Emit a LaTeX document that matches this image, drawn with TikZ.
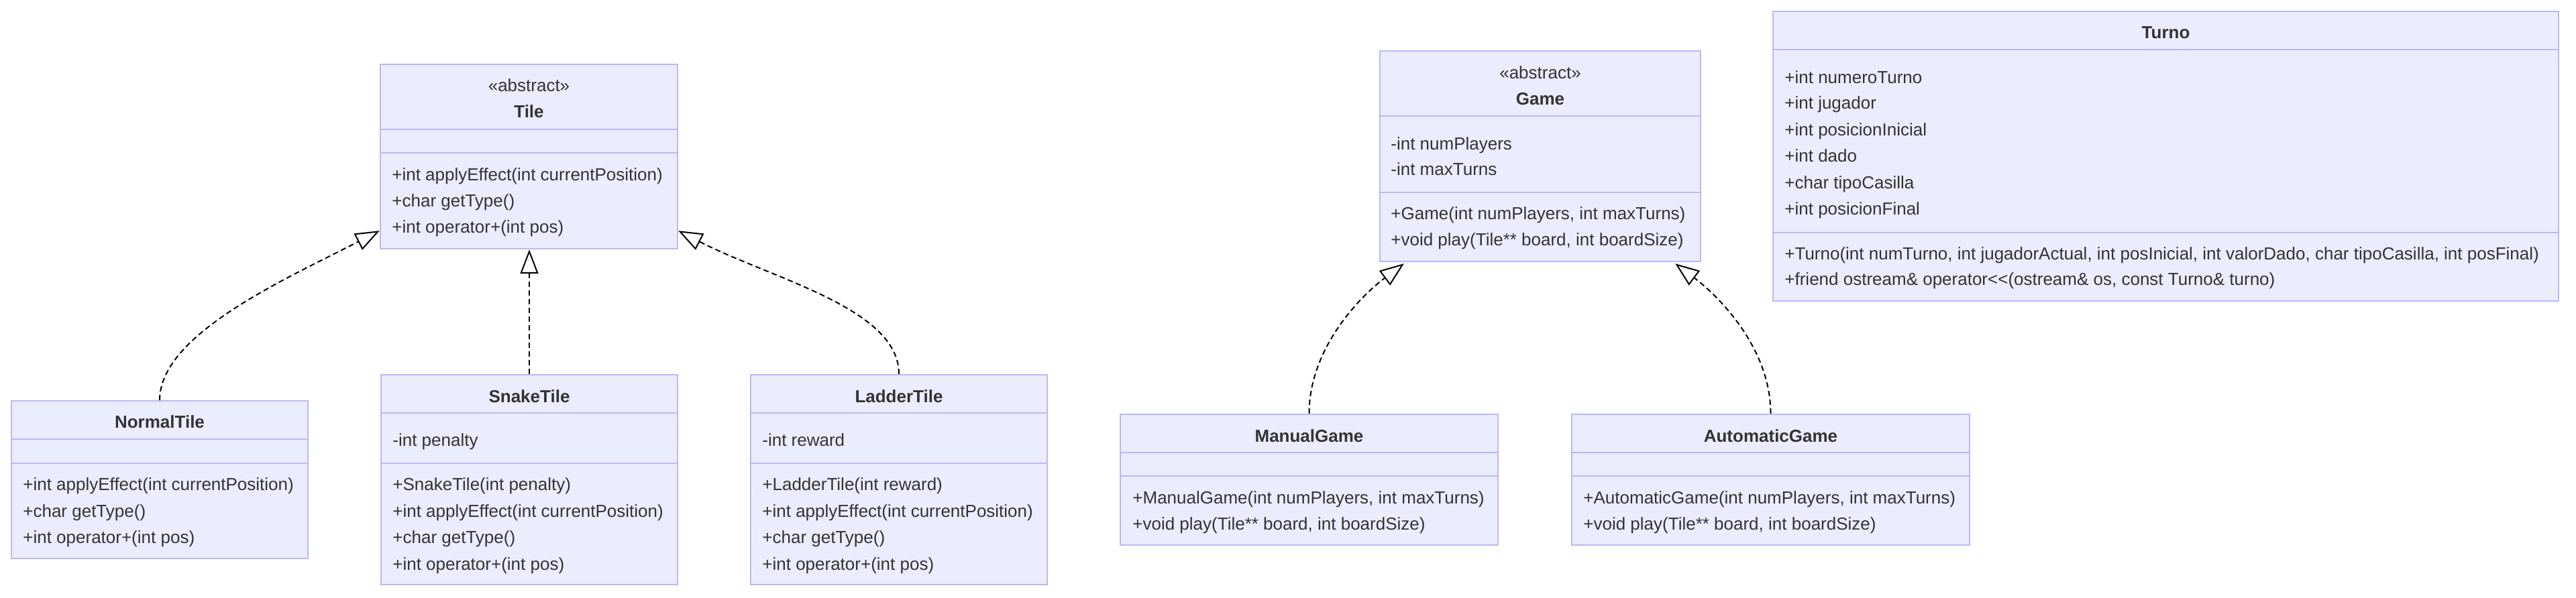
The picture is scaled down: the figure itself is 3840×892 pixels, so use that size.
\documentclass[tikz,border=0pt]{standalone}
\usepackage{fontspec}
\setmainfont{Liberation Sans}
\usepackage{tikz}
\usetikzlibrary{arrows.meta,calc,positioning,fit}
\definecolor{umlfill}{HTML}{ECECFF}
\definecolor{umlborder}{RGB}{185,185,245}
\definecolor{umltext}{HTML}{333333}
\tikzset{
classbox/.style={draw=umlborder,fill=umlfill,line width=1.2pt,inner sep=0pt},
sepline/.style={draw=umlborder,line width=1.2pt},
member/.style={anchor=west,inner sep=0pt,text=umltext,text height=11.5pt,text depth=2.7pt,font=\fontsize{13}{15}\selectfont},
classname/.style={inner sep=0pt,text=umltext,text height=11.5pt,text depth=2.7pt,font=\bfseries\fontsize{13}{15}\selectfont},
stereo/.style={classname,font=\fontsize{13}{15}\selectfont},
realizes/.style={draw=black,line width=1pt,dash pattern=on 4pt off 2.5pt,-{Triangle[open,length=18pt,width=13.5pt,line width=1pt]}}
}

\begin{document}
\begin{tikzpicture}[x=0.5pt,y=-0.5pt]
\useasboundingbox (0,0) rectangle (3840,892);
% class boxes
\node[classbox,fit={(567,96) (1010,371)}] (tile) {};
\node[classbox,fit={(17,598) (459,833)}] (normal) {};
\node[classbox,fit={(568,559) (1010,872)}] (snake) {};
\node[classbox,fit={(1119,559) (1561,872)}] (ladder) {};
\node[classbox,fit={(2057,76) (2535,390)}] (game) {};
\node[classbox,fit={(2643,17) (3814,449)}] (turno) {};
\node[classbox,fit={(1670,618) (2233,813)}] (manual) {};
\node[classbox,fit={(2343,618) (2936,813)}] (automatic) {};
% compartments
\draw[sepline] (tile.west |- 0,193) -- (tile.east |- 0,193);
\draw[sepline] (tile.west |- 0,228) -- (tile.east |- 0,228);
\draw[sepline] (normal.west |- 0,655) -- (normal.east |- 0,655);
\draw[sepline] (normal.west |- 0,691) -- (normal.east |- 0,691);
\draw[sepline] (snake.west |- 0,616) -- (snake.east |- 0,616);
\draw[sepline] (snake.west |- 0,691) -- (snake.east |- 0,691);
\draw[sepline] (ladder.west |- 0,616) -- (ladder.east |- 0,616);
\draw[sepline] (ladder.west |- 0,691) -- (ladder.east |- 0,691);
\draw[sepline] (game.west |- 0,173) -- (game.east |- 0,173);
\draw[sepline] (game.west |- 0,287) -- (game.east |- 0,287);
\draw[sepline] (turno.west |- 0,74) -- (turno.east |- 0,74);
\draw[sepline] (turno.west |- 0,347) -- (turno.east |- 0,347);
\draw[sepline] (manual.west |- 0,675) -- (manual.east |- 0,675);
\draw[sepline] (manual.west |- 0,710) -- (manual.east |- 0,710);
\draw[sepline] (automatic.west |- 0,675) -- (automatic.east |- 0,675);
\draw[sepline] (automatic.west |- 0,710) -- (automatic.east |- 0,710);
% Tile
\node[stereo] (tile-st) at (788.5,128) {«abstract»};
\node[classname] (tile-nm) at (788.5,167) {Tile};
\node[member] (tile-m1) at (584,261) {+int applyEffect(int currentPosition)};
\node[member] (tile-m2) at (584,300) {+char getType()};
\node[member] (tile-m3) at (584,339) {+int operator+(int pos)};
% NormalTile
\node[classname] (normal-nm) at (238,630) {NormalTile};
\node[member] (normal-m1) at (34,723) {+int applyEffect(int currentPosition)};
\node[member] (normal-m2) at (34,763) {+char getType()};
\node[member] (normal-m3) at (34,802) {+int operator+(int pos)};
% SnakeTile
\node[classname] (snake-nm) at (789,592) {SnakeTile};
\node[member] (snake-a1) at (585,657) {-int penalty};
\node[member] (snake-m1) at (585,723) {+SnakeTile(int penalty)};
\node[member] (snake-m2) at (585,763) {+int applyEffect(int currentPosition)};
\node[member] (snake-m3) at (585,802) {+char getType()};
\node[member] (snake-m4) at (585,842) {+int operator+(int pos)};
% LadderTile
\node[classname] (ladder-nm) at (1340,592) {LadderTile};
\node[member] (ladder-a1) at (1136,657) {-int reward};
\node[member] (ladder-m1) at (1136,723) {+LadderTile(int reward)};
\node[member] (ladder-m2) at (1136,763) {+int applyEffect(int currentPosition)};
\node[member] (ladder-m3) at (1136,802) {+char getType()};
\node[member] (ladder-m4) at (1136,842) {+int operator+(int pos)};
% Game
\node[stereo] (game-st) at (2296,109) {«abstract»};
\node[classname] (game-nm) at (2296,148) {Game};
\node[member] (game-a1) at (2073,215) {-int numPlayers};
\node[member] (game-a2) at (2073,253) {-int maxTurns};
\node[member] (game-m1) at (2073,319) {+Game(int numPlayers, int maxTurns)};
\node[member] (game-m2) at (2073,358) {+void play(Tile** board, int boardSize)};
% Turno
\node[classname] (turno-nm) at (3228.5,49) {Turno};
\node[member] (turno-a1) at (2660,116) {+int numeroTurno};
\node[member] (turno-a2) at (2660,154) {+int jugador};
\node[member] (turno-a3) at (2660,194) {+int posicionInicial};
\node[member] (turno-a4) at (2660,233) {+int dado};
\node[member] (turno-a5) at (2660,273) {+char tipoCasilla};
\node[member] (turno-a6) at (2660,312) {+int posicionFinal};
\node[member] (turno-m1) at (2660,379) {+Turno(int numTurno, int jugadorActual, int posInicial, int valorDado, char tipoCasilla, int posFinal)};
\node[member] (turno-m2) at (2660,417) {+friend ostream\& operator<\kern0pt<(ostream\& os, const Turno\& turno)};
% ManualGame
\node[classname] (manual-nm) at (1951.5,651) {ManualGame};
\node[member] (manual-m1) at (1688,743) {+ManualGame(int numPlayers, int maxTurns)};
\node[member] (manual-m2) at (1688,782) {+void play(Tile** board, int boardSize)};
% AutomaticGame
\node[classname] (automatic-nm) at (2639.5,651) {AutomaticGame};
\node[member] (automatic-m1) at (2360,743) {+AutomaticGame(int numPlayers, int maxTurns)};
\node[member] (automatic-m2) at (2360,782) {+void play(Tile** board, int boardSize)};
% realizations
\draw[realizes] (normal.north) .. controls +(0,-98) and +(-140,72) .. ($(tile.south west)+(0,-28)$);
\draw[realizes] (snake.north) -- (snake.north |- tile.south);
\draw[realizes] (ladder.north) .. controls +(0,-98) and +(140,72) .. ($(tile.south east)+(0,-28)$);
\draw[realizes] (manual.north) .. controls +(0,-98) and +(-64,48) .. ($(game.south west)+(37,2)$);
\draw[realizes] (automatic.north) .. controls +(0,-98) and +(64,48) .. ($(game.south east)+(-39,2)$);
\end{tikzpicture}
\end{document}
